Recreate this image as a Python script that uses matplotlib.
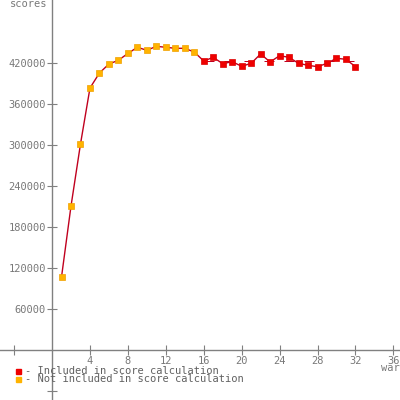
import numpy as np
import matplotlib
matplotlib.use('Agg')
import matplotlib.pyplot as plt

# wards 1..15 not included, 16..32 included
wards_not = list(range(1, 16))
scores_not = [107000, 210700, 301500, 383400, 405400, 418500, 424000, 434000,
              443000, 438600, 444400, 443000, 441500, 441500, 436100]
wards_inc = list(range(16, 33))
scores_inc = [422900, 428300, 419000, 421900, 415200, 419500, 433200, 421500,
              430700, 428300, 419500, 416600, 414600, 419500, 426900, 425400, 414600]

yticks = [-60000, 60000, 120000, 180000, 240000, 300000, 360000, 420000]
xticks = [-4, 4, 8, 12, 16, 20, 24, 28, 32, 36]

fig = plt.figure(figsize=(4, 4), dpi=100)
ax = fig.add_axes([0, 0, 1, 1])
ax.set_xlim(-5.49, 36.7)
ax.set_ylim(-73170, 512200)

mono = 'DejaVu Sans Mono'
axcol = '#808080'
txtcol = '#787878'

for s in ['top', 'right']:
    ax.spines[s].set_visible(False)
for s in ['left', 'bottom']:
    ax.spines[s].set_position(('data', 0))
    ax.spines[s].set_color(axcol)
    ax.spines[s].set_linewidth(1.0)

ax.set_xticks(xticks)
ax.set_xticklabels([str(t) if t > 0 else '' for t in xticks], fontfamily=mono, fontsize=7.5, color=txtcol)
ax.set_yticks(yticks)
ax.set_yticklabels([str(t) if t > 0 else '' for t in yticks], fontfamily=mono, fontsize=7.5, color=txtcol)
ax.tick_params(direction='inout', length=7, width=0.8, color=axcol, pad=1)

# line through all points
all_w = wards_not + wards_inc
all_s = scores_not + scores_inc
ax.plot(all_w, all_s, color='#c0001e', lw=1.0, zorder=2)

# average of included
avg = np.mean(scores_inc)
ax.plot([wards_inc[0], wards_inc[-1]], [avg, avg], color='#c0001e', lw=0.72,
        dashes=(10, 10), zorder=1)

ax.plot(wards_not, scores_not, 's', color='#ffb300', ms=4.3, mec='#f0a000', mew=0.5, zorder=3)
ax.plot(wards_inc, scores_inc, 's', color='#ee0000', ms=4.3, mec='#dd0000', mew=0.5, zorder=3)

fig.text(47 / 400, 1 + 1 / 400, 'scores', ha='right', va='top', fontfamily=mono, fontsize=7.5, color=txtcol)
fig.text(381 / 400, 1 - 363 / 400, 'wards', ha='left', va='top', fontfamily=mono, fontsize=7.5, color=txtcol)

# legend
fig.patches.append(plt.Rectangle((16 / 400, 1 - 374 / 400), 5 / 400, 5 / 400, color='#ee0000', transform=fig.transFigure, figure=fig))
fig.patches.append(plt.Rectangle((16 / 400, 1 - 382 / 400), 5 / 400, 5 / 400, color='#ffb300', transform=fig.transFigure, figure=fig))
fig.text(25 / 400, 1 - 371.5 / 400, '- Included in score calculation', ha='left', va='center', fontfamily=mono, fontsize=7.5, color='#606060')
fig.text(25 / 400, 1 - 379.5 / 400, '- Not included in score calculation', ha='left', va='center', fontfamily=mono, fontsize=7.5, color='#606060')

fig.savefig('out.png', dpi=100)
